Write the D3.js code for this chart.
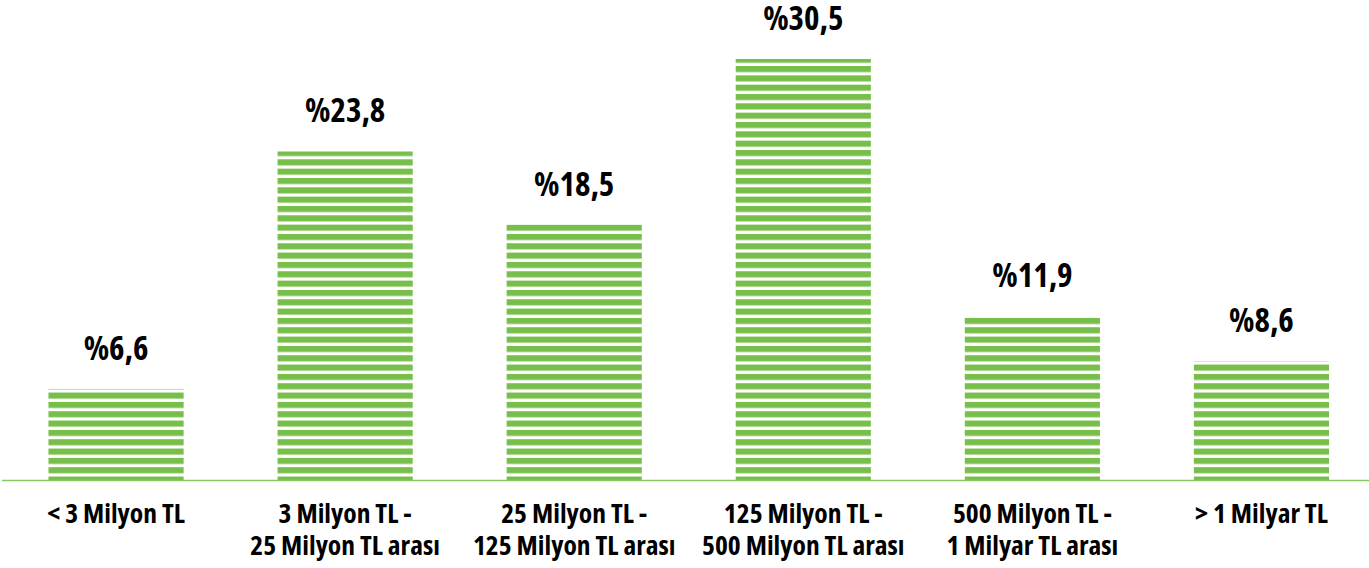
<!doctype html>
<html>
<head>
<meta charset="utf-8">
<title>Ciro dağılımı</title>
<script src="https://d3js.org/d3.v7.min.js"></script>
<style>
  body { margin: 0; background: #fff; }
  .value { font-family: "Open Sans", sans-serif; font-stretch: condensed; font-weight: bold; font-size: 33px; fill: #000; }
  .cat { font-family: "Open Sans", sans-serif; font-stretch: condensed; font-weight: bold; font-size: 27.5px; fill: #000; }
</style>
</head>
<body>
<div id="chart"></div>
<script>
const categories = [
  ["< 3 Milyon TL"],
  ["3 Milyon TL -", "25 Milyon TL arası"],
  ["25 Milyon TL -", "125 Milyon TL arası"],
  ["125 Milyon TL -", "500 Milyon TL arası"],
  ["500 Milyon TL -", "1 Milyar TL arası"],
  ["> 1 Milyar TL"]
];
const values = [6.6, 23.8, 18.5, 30.5, 11.9, 8.6];
const valueLabels = ["%6,6", "%23,8", "%18,5", "%30,5", "%11,9", "%8,6"];

const w = 1369, h = 568;
const baseY = 480;
const green = "#77bf4a";

const svg = d3.select("#chart").append("svg")
  .attr("width", w)
  .attr("height", h);

// striped fill
const defs = svg.append("defs");
const pat = defs.append("pattern")
  .attr("id", "stripes")
  .attr("patternUnits", "userSpaceOnUse")
  .attr("width", 10)
  .attr("height", 9.33)
  .attr("y", 0.7);
pat.append("rect")
  .attr("width", 10)
  .attr("height", 6.1)
  .attr("fill", green);

const idx = d3.range(values.length);

const x = d3.scaleBand()
  .domain(idx)
  .range([1.5, 1376])
  .paddingInner(0.41)
  .paddingOuter(0.205);

const y = d3.scaleLinear()
  .domain([0, 30.5])
  .range([baseY, 59]);

svg.selectAll("rect.bar")
  .data(idx)
  .enter()
  .append("rect")
  .attr("class", "bar")
  .attr("x", function(i) { return x(i); })
  .attr("width", x.bandwidth())
  .attr("y", function(i) { return y(values[i]); })
  .attr("height", function(i) { return baseY - y(values[i]); })
  .attr("fill", "url(#stripes)");

svg.append("line")
  .attr("x1", 2)
  .attr("x2", w)
  .attr("y1", baseY + 0.5)
  .attr("y2", baseY + 0.5)
  .attr("stroke", "#86c964")
  .attr("stroke-width", 1.5);

svg.selectAll("text.value")
  .data(idx)
  .enter()
  .append("text")
  .attr("class", "value")
  .attr("text-anchor", "middle")
  .attr("x", function(i) { return x(i) + x.bandwidth() / 2; })
  .attr("y", function(i) { return y(values[i]) - 29; })
  .text(function(i) { return valueLabels[i]; });

const cats = svg.selectAll("text.cat")
  .data(idx)
  .enter()
  .append("text")
  .attr("class", "cat")
  .attr("text-anchor", "middle")
  .attr("x", function(i) { return x(i) + x.bandwidth() / 2; })
  .attr("y", 523);

cats.selectAll("tspan")
  .data(function(i) { return categories[i]; })
  .enter()
  .append("tspan")
  .attr("x", function() { return d3.select(this.parentNode).attr("x"); })
  .attr("dy", function(d, j) { return j === 0 ? 0 : 32; })
  .text(function(d) { return d; });
</script>
</body>
</html>
